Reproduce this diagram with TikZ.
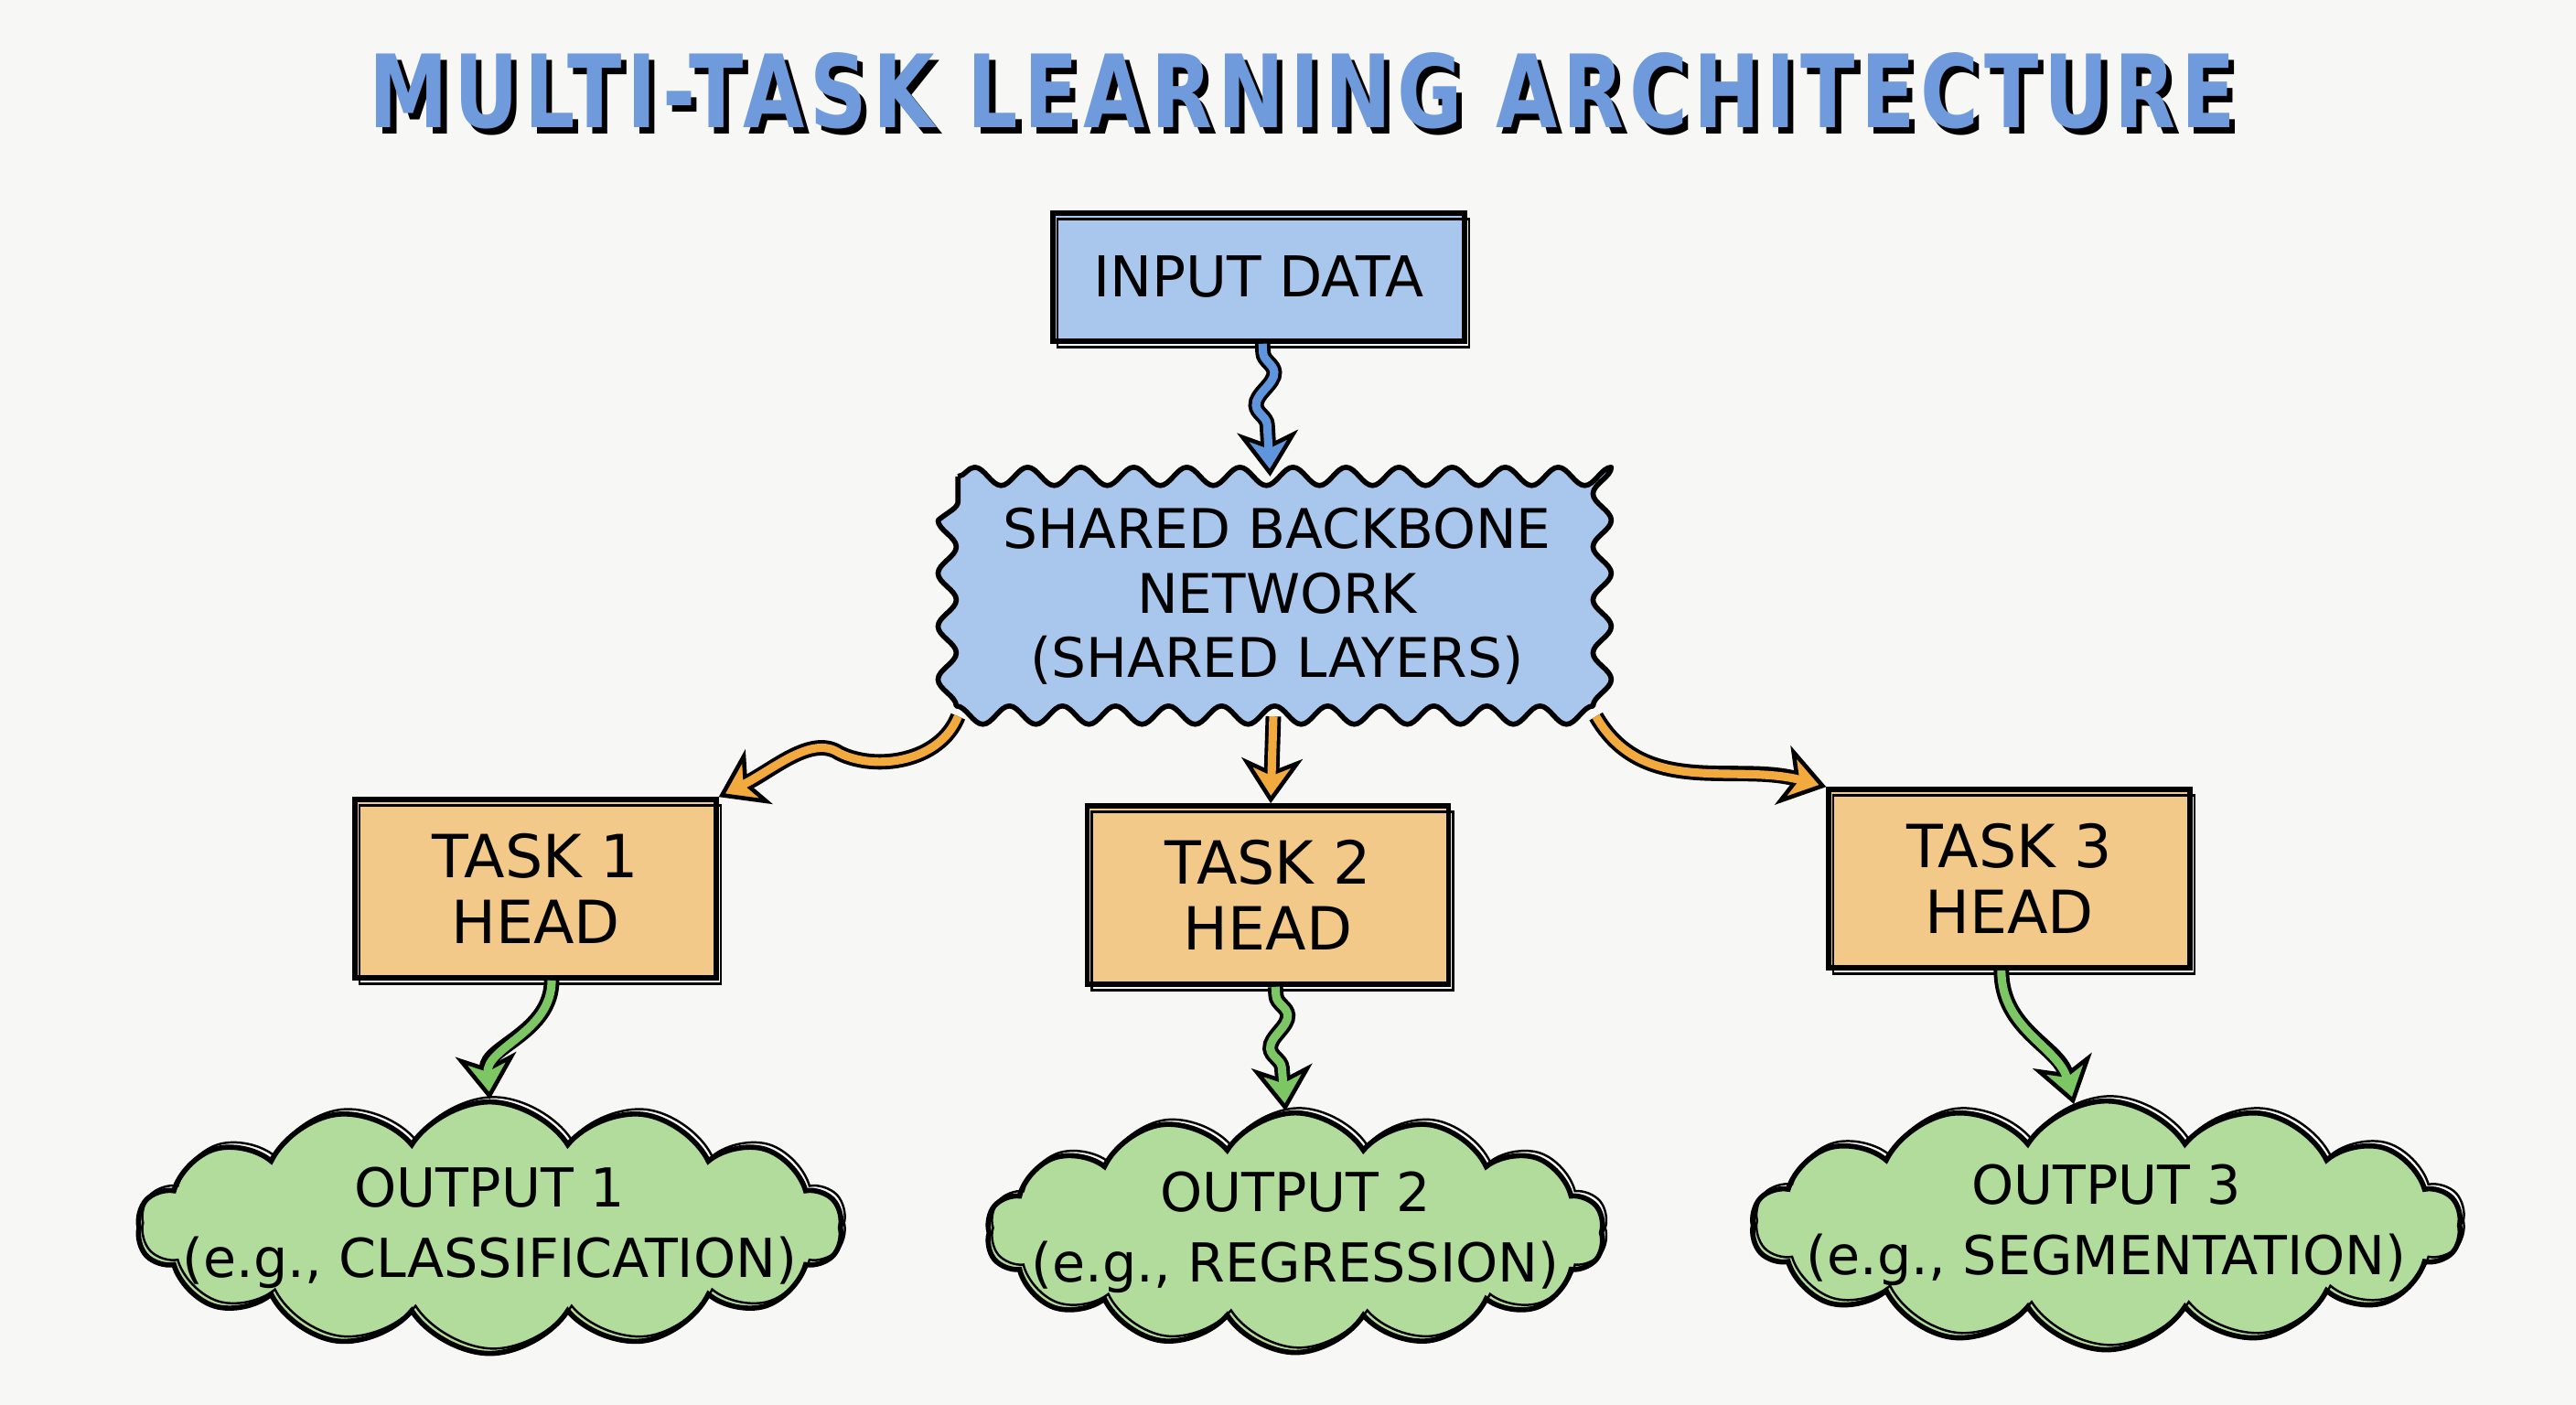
\documentclass[tikz,border=0pt]{standalone}
\usepackage{fontspec}
\setmainfont{DejaVu Sans}
\newfontfamily\titleface{DejaVu Sans}[LetterSpace=7]
\usetikzlibrary{shapes.symbols, arrows.meta, positioning, decorations.pathmorphing, backgrounds}

\definecolor{paper}{HTML}{F7F7F5}
\definecolor{titleblue}{HTML}{6F9BDD}
\definecolor{inputblue}{HTML}{A9C7EC}
\definecolor{headorange}{HTML}{F2C989}
\definecolor{outgreen}{HTML}{B2DC9B}
\definecolor{arrowblue}{HTML}{5E95DD}
\definecolor{arroworange}{HTML}{F2AA3E}
\definecolor{arrowgreen}{HTML}{7CC664}

\newcommand{\mtltitle}{\resizebox{20.4cm}{0.82cm}{\titleface\bfseries MULTI-TASK LEARNING ARCHITECTURE}}

\begin{document}
\begin{tikzpicture}[
        node distance=1.3cm and 4cm,
        box/.style={rectangle, draw=black, line width=1.6pt, align=center, inner sep=0pt, font=\fontsize{17}{20}\selectfont,
            postaction={draw=black, line width=0.7pt, transform canvas={shift={(1.4pt,-1.8pt)}}}},
        head/.style={box, fill=headorange, minimum width=3.95cm, minimum height=1.95cm, font=\fontsize{18.5}{20.5}\selectfont},
        outcloud/.style={cloud, cloud puffs=14, cloud puff arc=115, cloud ignores aspect, draw=black, line width=1.6pt, fill=outgreen, align=center,
            inner xsep=-1.3cm, inner ysep=-0.35cm, font=\fontsize{16.7}{22}\selectfont,
            postaction={draw=black, line width=0.7pt, transform canvas={shift={(1.2pt,1.5pt)}}}},
        flow/.style={draw=black, line width=4.8pt, -{Stealth[length=14pt, width=19pt, inset=4pt, line width=1.3pt, fill=#1]},
            postaction={draw=#1, line width=2.6pt, -, shorten >=8pt}},
        wiggle/.style={decorate, decoration={snake, amplitude=1.1mm, segment length=7mm, pre length=1mm, post length=4mm}}
    ]
        \useasboundingbox (0,0) rectangle (28.16,15.36);

        % title: black shadow under the blue letters
        \coordinate (title) at (14.24,14.37);
        \node[text=black, xshift=1.8pt, yshift=-2.2pt] (title-shade) at (title) {\mtltitle};
        \node[text=titleblue] (heading) at (title) {\mtltitle};

        \node[box, fill=inputblue, minimum width=4.5cm, minimum height=1.4cm, font=\fontsize{17.5}{20}\selectfont] (input) at (13.76,12.33) {INPUT DATA};
        \node[align=center, inner sep=0pt, font=\fontsize{17}{20}\selectfont, minimum width=6.96cm, minimum height=2.61cm, below=1.45cm of input, xshift=2mm] (backbone) {SHARED BACKBONE\\NETWORK\\(SHARED LAYERS)};

        \node[head, below=0.95cm of backbone, xshift=-1mm] (task2) {TASK 2\\HEAD};
        \node[head, left=4cm of task2, yshift=0.7mm] (task1) {TASK 1\\HEAD};
        \node[head, right=4.1cm of task2, yshift=1.8mm] (task3) {TASK 3\\HEAD};

        \node[outcloud, below=1.3cm of task1, xshift=-5mm, minimum width=7.7cm, minimum height=2.75cm] (out1) {OUTPUT 1\\(e.g., CLASSIFICATION)};
        \node[outcloud, below=1.35cm of task2, xshift=3mm, minimum width=6.75cm, minimum height=2.62cm] (out2) {OUTPUT 2\\(e.g., REGRESSION)};
        \node[outcloud, below=1.4cm of task3, xshift=10.6mm, minimum width=7.75cm, minimum height=2.72cm] (out3) {OUTPUT 3\\(e.g., SEGMENTATION)};

        \begin{scope}[on background layer]
            \fill[paper] (0,0) rectangle (28.16,15.36);
            \draw[line width=1.6pt, line join=round, fill=inputblue, decorate, decoration={snake, segment length=5.8mm, amplitude=1mm}]
                (backbone.north west) -- (backbone.north east) -- (backbone.south east) -- (backbone.south west) -- cycle;
        \end{scope}

        \draw[flow=arrowblue, wiggle] (input) -- (backbone);

        \draw[flow=arroworange] (backbone.south west) .. controls +(-0.2,-0.5) and +(0.4,-0.2) .. ++(-1.3,-0.4)
            .. controls +(-0.3,0.2) and +(0.6,0.3) .. (task1.north east);
        \draw[flow=arroworange] (backbone) -- (task2);
        \draw[flow=arroworange] (backbone.south east) to[out=-60, in=165] (task3.north west);

        \draw[flow=arrowgreen] (task1.-80) to[out=-90, in=95] (out1.north);
        \draw[flow=arrowgreen, wiggle] (task2) -- (out2);
        \draw[flow=arrowgreen] (task3.-95) to[out=-90, in=105] (out3.105);
    \end{tikzpicture}
\end{document}
